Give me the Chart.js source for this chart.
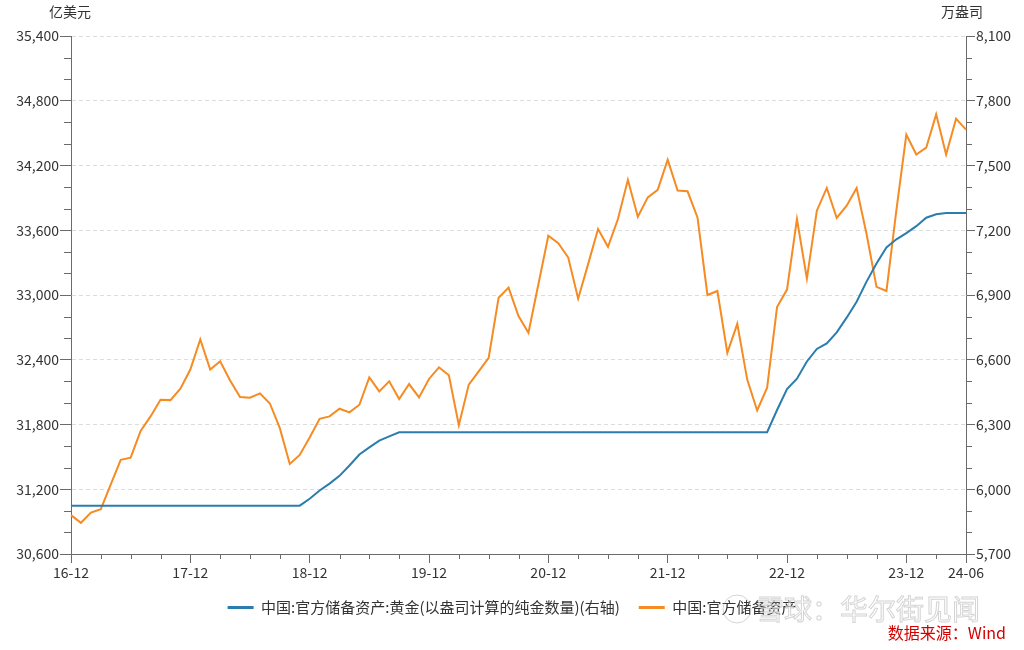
<!DOCTYPE html>
<html>
<head>
<meta charset="utf-8">
<script src="https://cdn.jsdelivr.net/npm/chart.js@4.4.1/dist/chart.umd.min.js"></script>
<style>
  html, body { margin: 0; padding: 0; background: #fff; }
</style>
</head>
<body>
<canvas id="chart" width="1024" height="650"></canvas>
<script>
// months 16-12 .. 24-06
const months = [];
for (let i = 0; i < 91; i++) {
  const m = (11 + i) % 12 + 1;
  const yr = 16 + Math.floor((11 + i) / 12);
  months.push(yr + '-' + String(m).padStart(2, '0'));
}
const xTickLabels = ['16-12', '17-12', '18-12', '19-12', '20-12', '21-12', '22-12', '23-12', '24-06'];
const leftTicks = [30600, 31200, 31800, 32400, 33000, 33600, 34200, 34800, 35400];
const rightTicks = [5700, 6000, 6300, 6600, 6900, 7200, 7500, 7800, 8100];

// 中国:官方储备资产:黄金(以盎司计算的纯金数量) 万盎司 (right axis)
const goldOunces = [
  5924, 5924, 5924, 5924, 5924, 5924, 5924, 5924, 5924, 5924, 5924, 5924,
  5924, 5924, 5924, 5924, 5924, 5924, 5924, 5924, 5924, 5924, 5924, 5924,
  5956, 5994, 6026, 6062, 6110, 6161, 6194, 6225, 6245, 6264, 6264, 6264,
  6264, 6264, 6264, 6264, 6264, 6264, 6264, 6264, 6264, 6264, 6264, 6264,
  6264, 6264, 6264, 6264, 6264, 6264, 6264, 6264, 6264, 6264, 6264, 6264,
  6264, 6264, 6264, 6264, 6264, 6264, 6264, 6264, 6264, 6264, 6264, 6367,
  6464, 6512, 6592, 6650, 6676, 6727, 6795, 6869, 6962, 7046, 7120, 7158,
  7187, 7219, 7258, 7274, 7280, 7280, 7280
];

// 中国:官方储备资产 亿美元 (left axis)
const reserveAssets = [
  30960, 30889, 30984, 31016, 31245, 31472, 31493, 31741, 31875, 32030, 32026, 32132,
  32309, 32588, 32309, 32386, 32207, 32054, 32048, 32088, 31995, 31766, 31434, 31518,
  31679, 31853, 31875, 31946, 31912, 31983, 32237, 32107, 32200, 32036, 32175, 32051,
  32222, 32330, 32256, 31794, 32170, 32293, 32417, 32975, 33068, 32805, 32650, 33100,
  33549, 33481, 33347, 32966, 33286, 33611, 33447, 33704, 34067, 33726, 33905, 33974,
  34253, 33968, 33961, 33719, 33000, 33037, 32464, 32733, 32216, 31930, 32141, 32888,
  33050, 33704, 33152, 33781, 33992, 33714, 33828, 33992, 33565, 33075, 33037, 33786,
  34486, 34302, 34365, 34674, 34302, 34634, 34532
];

const BLUE = '#2b7dad';
const ORANGE = '#f58b22';
const AXIS = '#6b6b6b';
const TEXT = '#333333';
const FONT = "'Noto Sans CJK SC', 'Noto Sans', sans-serif";

Chart.defaults.font.family = FONT;
Chart.defaults.color = TEXT;

const fmt = v => Number(v).toLocaleString('en-US');

// short minor ticks + unit labels, watermark and source
const extras = {
  id: 'extras',
  afterDraw(chart) {
    const { ctx, chartArea } = chart;
    const { x, y, y1 } = chart.scales;
    ctx.save();
    ctx.strokeStyle = AXIS;
    ctx.lineWidth = 1;
    ctx.beginPath();
    y.ticks.forEach(t => {
      if (leftTicks.includes(t.value)) return;
      const py = Math.round(y.getPixelForValue(t.value)) + 0.5;
      ctx.moveTo(chartArea.left - 7, py);
      ctx.lineTo(chartArea.left, py);
    });
    y1.ticks.forEach(t => {
      if (rightTicks.includes(t.value)) return;
      const py = Math.round(y1.getPixelForValue(t.value)) + 0.5;
      ctx.moveTo(chartArea.right, py);
      ctx.lineTo(chartArea.right + 6, py);
    });
    months.forEach((m, i) => {
      if (i % 3 !== 0 || xTickLabels.includes(m)) return;
      const px = Math.round(x.getPixelForValue(i)) + 0.5;
      ctx.moveTo(px, chartArea.bottom);
      ctx.lineTo(px, chartArea.bottom + 5);
    });
    ctx.stroke();

    ctx.fillStyle = TEXT;
    ctx.font = '14px ' + FONT;
    ctx.textAlign = 'center';
    ctx.textBaseline = 'middle';
    ctx.fillText('亿美元', 70, 12);
    ctx.fillText('万盎司', 962, 12);

    // watermark
    ctx.font = '28px ' + FONT;
    ctx.textAlign = 'left';
    ctx.fillStyle = 'rgba(255,255,255,0.6)';
    ctx.strokeStyle = 'rgba(160,160,160,0.45)';
    ctx.lineWidth = 1;
    ctx.beginPath();
    ctx.arc(737, 609, 14, 0, Math.PI * 2);
    ctx.stroke();
    ctx.fillText('雪球：华尔街见闻', 756, 609);
    ctx.strokeText('雪球：华尔街见闻', 756, 609);

    ctx.font = '16px ' + FONT;
    ctx.fillStyle = '#d40000';
    ctx.textAlign = 'right';
    ctx.fillText('数据来源：Wind', 1006, 633);
    ctx.restore();
  }
};

new Chart(document.getElementById('chart'), {
  type: 'line',
  data: {
    labels: months,
    datasets: [
      {
        label: '中国:官方储备资产:黄金(以盎司计算的纯金数量)(右轴)',
        data: goldOunces,
        yAxisID: 'y1',
        borderColor: BLUE,
        backgroundColor: BLUE,
        borderWidth: 2,
        pointRadius: 0,
        tension: 0
      },
      {
        label: '中国:官方储备资产',
        data: reserveAssets,
        yAxisID: 'y',
        borderColor: ORANGE,
        backgroundColor: ORANGE,
        borderWidth: 2,
        pointRadius: 0,
        tension: 0
      }
    ]
  },
  options: {
    responsive: false,
    animation: false,
    layout: { padding: { top: 36, left: 0, right: 0, bottom: 25 } },
    plugins: {
      tooltip: { enabled: false },
      legend: {
        position: 'bottom',
        labels: {
          usePointStyle: true,
          pointStyle: 'line',
          pointStyleWidth: 26,
          padding: 19,
          color: TEXT,
          font: { size: 15 },
          generateLabels(chart) {
            const items = Chart.defaults.plugins.legend.labels.generateLabels(chart);
            items.forEach(it => { it.lineWidth = 3; });
            return items;
          }
        }
      }
    },
    scales: {
      x: {
        type: 'category',
        offset: false,
        afterFit(scale) { scale.height = 27; },
        border: { color: AXIS, width: 1 },
        grid: {
          drawOnChartArea: false,
          tickLength: 9,
          tickColor: ctx => xTickLabels.includes(months[ctx.index]) ? AXIS : 'rgba(0,0,0,0)'
        },
        ticks: {
          autoSkip: false,
          maxRotation: 0,
          padding: 1,
          color: TEXT,
          font: { size: 14 },
          callback: (v, i) => xTickLabels.includes(months[i]) ? months[i] : ''
        }
      },
      y: {
        position: 'left',
        min: 30600,
        max: 35400,
        afterFit(scale) { scale.width = 71; },
        border: { color: AXIS, width: 1, dash: [4, 3] },
        grid: {
          tickLength: 11,
          color: ctx => (ctx.tick && leftTicks.includes(ctx.tick.value)) ? '#dcdcdc' : 'rgba(0,0,0,0)',
          tickColor: ctx => (ctx.tick && leftTicks.includes(ctx.tick.value)) ? AXIS : 'rgba(0,0,0,0)'
        },
        ticks: {
          stepSize: 200,
          autoSkip: false,
          padding: 1,
          color: TEXT,
          font: { size: 14 },
          callback: v => leftTicks.includes(v) ? fmt(v) : ''
        }
      },
      y1: {
        position: 'right',
        min: 5700,
        max: 8100,
        afterFit(scale) { scale.width = 58; },
        border: { color: AXIS, width: 1 },
        grid: {
          drawOnChartArea: false,
          tickLength: 9,
          tickColor: ctx => (ctx.tick && rightTicks.includes(ctx.tick.value)) ? AXIS : 'rgba(0,0,0,0)'
        },
        ticks: {
          stepSize: 100,
          autoSkip: false,
          padding: 1,
          color: TEXT,
          font: { size: 14 },
          callback: v => rightTicks.includes(v) ? fmt(v) : ''
        }
      }
    }
  },
  plugins: [extras]
});
</script>
</body>
</html>
